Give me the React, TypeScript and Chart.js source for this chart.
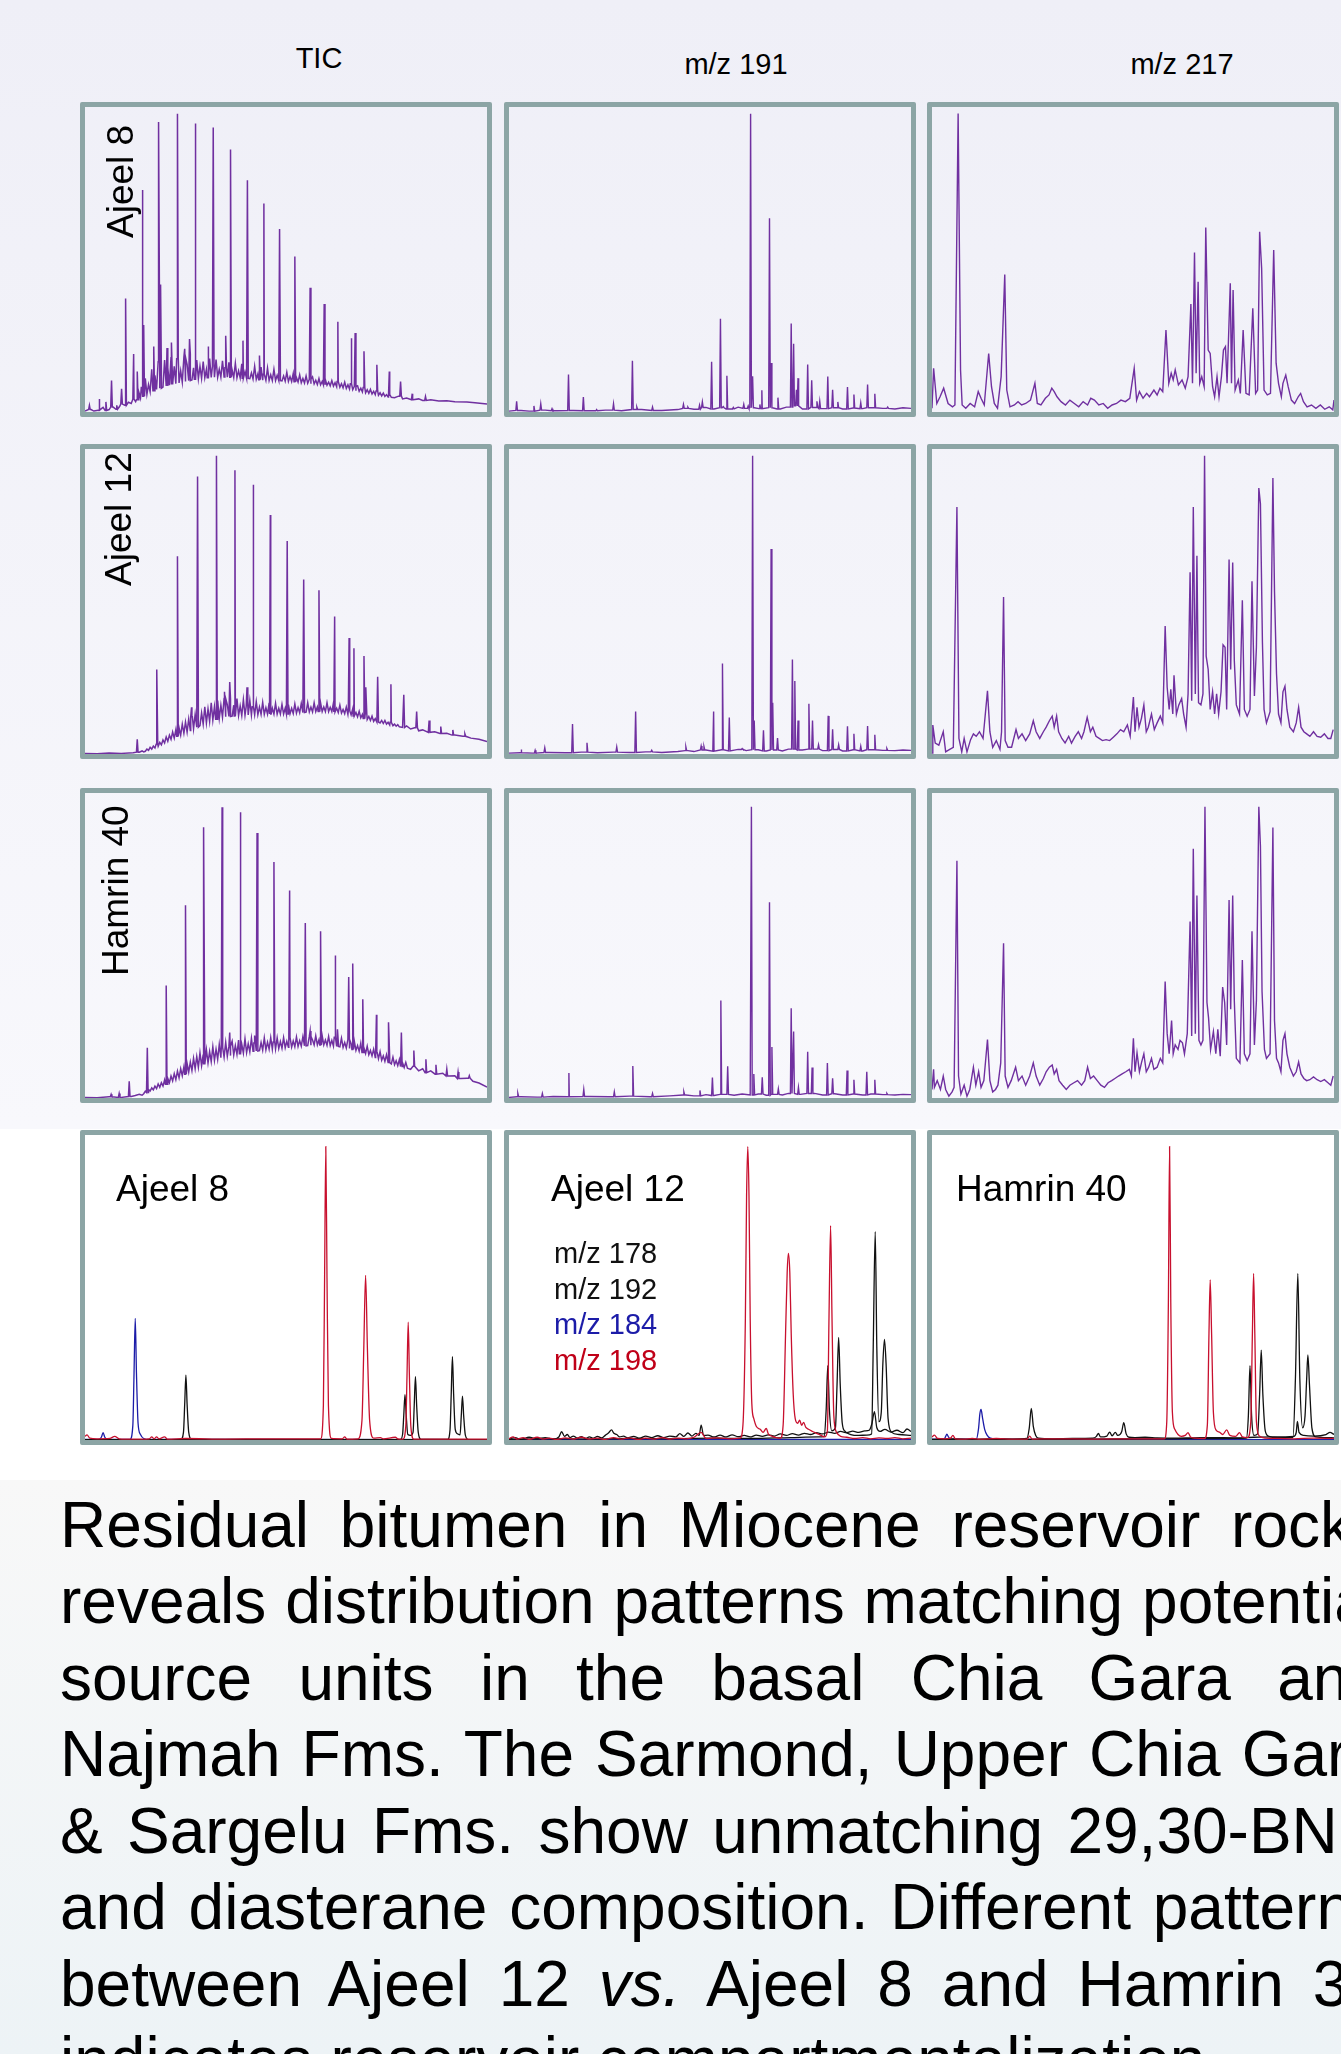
import React, { useEffect, useRef } from "react";
import { Chart, registerables } from "chart.js";

Chart.register(...registerables);

// ---------- labels ----------
const COLUMN_TITLES = ["TIC", "m/z 191", "m/z 217"];
const SAMPLES = ["Ajeel 8", "Ajeel 12", "Hamrin 40"];
const LEGEND_ITEMS = ["m/z 178", "m/z 192", "m/z 184", "m/z 198"];
const TEXT_LINES = [
  "Residual bitumen in Miocene reservoir rocks",
  "reveals distribution patterns matching potential",
  "source units in the basal Chia Gara and",
  "Najmah Fms. The Sarmond, Upper Chia Gara",
  "& Sargelu Fms. show unmatching 29,30-BNH",
  "and diasterane composition. Different patterns",
  "between Ajeel 12 |vs.| Ajeel 8 and Hamrin 30",
  "indicates reservoir compartmentalization.",
];

// ---------- TIC (retention %, abundance %) ----------
const TIC_A8_BASE = [0,0.3, 1.5,0.8, 2.2,0.3, 3.5,0.6, 4.5,1.5, 5.2,0.5, 6,0.8, 7,1.6, 7.8,0.9, 8.6,1.8, 9.3,2.6, 10,2.2, 10.8,3.2, 11.5,2.8, 12.2,4.2, 12.6,3.4,
  13.0,4.0, 13.4,6.5, 13.8,4.6, 14.2,8.0, 14.6,5.2, 15.0,11.0, 15.4,5.8, 15.8,9.0, 16.2,6.6, 16.6,14.0, 17.0,7.0, 17.4,12.0, 17.8,7.4, 18.2,16.5, 18.6,7.8, 19.0,13.5, 19.4,8.2, 19.8,17.0, 20.2,8.5, 20.6,14.5, 21.0,8.8, 21.4,18.0, 21.8,9.0, 22.2,15.0, 22.6,9.3, 23.0,17.5, 23.4,9.5, 23.8,13.5, 24.2,9.8, 24.6,18.0, 25.0,10.0, 25.4,15.5, 25.8,10.3, 26.2,19.0, 26.6,10.5, 27.0,14.5, 27.4,10.7, 27.8,17.0, 28.2,10.9, 28.6,15.0, 29.0,11.0, 29.4,16.5, 29.8,11.2, 30.2,14.0, 30.6,11.2, 31.0,17.5, 31.4,11.3, 31.8,15.0, 32.2,11.4, 32.6,17.2, 33.0,11.4, 33.4,14.0, 33.8,11.4, 34.2,16.8, 34.6,11.5, 35.0,14.5, 35.4,11.4, 35.8,16.3, 36.2,11.4, 36.6,13.8, 37.0,11.3, 37.4,16.0, 37.8,11.2, 38.2,13.5, 38.6,11.2, 39.0,15.8, 39.4,11.1, 39.8,13.2, 40.2,11.0, 40.6,15.2, 41.0,10.9, 41.4,12.8, 41.8,10.8, 42.2,15.0, 42.6,10.7, 43.0,12.5, 43.4,10.6, 43.8,14.7, 44.2,10.4, 44.6,12.4, 45.0,10.4, 45.4,14.4, 45.8,10.3, 46.2,12.2, 46.6,10.3, 47.0,14.0, 47.4,10.3, 47.8,12.0, 48.2,10.3, 48.6,13.6, 49.0,10.2, 49.4,11.8, 49.8,10.1, 50.2,13.0, 50.6,10.0, 51.0,11.6, 51.4,10.0, 51.8,12.6, 52.2,9.9, 52.6,11.3, 53.0,9.8, 53.4,12.2, 53.8,9.6, 54.2,11.0, 54.6,9.5, 55.0,11.8, 55.4,9.4, 55.8,10.7, 56.2,9.3, 56.6,11.5, 57.0,9.2, 57.4,10.4, 57.8,9.0, 58.2,11.0, 58.6,8.9, 59.0,10.0, 59.4,8.9, 59.8,10.6, 60.2,8.8, 60.6,9.8, 61.0,8.6, 61.4,10.3, 61.8,8.5, 62.2,9.6, 62.6,8.3, 63.0,10.0, 63.4,8.1, 63.8,9.3, 64.2,7.9, 64.6,9.8, 65.0,7.7, 65.4,8.9, 65.8,7.5, 66.2,9.3, 66.6,7.3, 67.0,8.4, 67.4,7.0, 67.8,8.6, 68.2,6.8, 68.6,7.8, 69.0,6.6, 69.4,8.0, 69.8,6.3, 70.2,7.3, 70.6,6.1, 71.0,7.4, 71.4,5.9, 71.8,6.8, 72.2,5.7, 72.6,6.9, 73.0,5.5, 73.4,6.3, 73.8,5.3, 74.2,6.2, 74.6,5.1, 75.0,5.7, 75.4,4.9, 75.8,5.5, 76.2,4.8,
  77,4.7, 78,5.2, 79,4.3, 80,4.6, 81.5,4.0, 83,4.3, 84,3.8, 86,4.0, 88,3.6, 90,3.7, 92,3.4, 95,3.3, 97,3.0, 100,2.6];
const TIC_A8_PEAKS = [1.1,2.2, 3.5,4.3, 5.2,3.3, 6.6,10.3, 7.9,2.2, 9.1,7.6, 10.1,37.2, 12.1,19, 13.0,13.3, 14.2,72.8, 14.6,28.5, 17.1,21.5, 18.4,95.1, 18.8,41.8, 20.4,21, 21.6,22.8, 23.0,97.8, 24.8,20.7, 26.0,23.9, 27.4,94.6, 30.6,21.5, 31.9,93.3, 35.0,25, 36.2,86.1, 39.3,23.4, 40.4,76, 43.4,18.5, 44.5,68.4, 48.4,60, 52.2,51, 56.0,40.7, 59.5,35.4, 62.9,29.6, 66.2,24.2, 67.2,25.9, 69.4,19.9, 72.6,15.5, 75.7,13.3, 78.5,10, 81.4,6, 84.7,5.1];

const TIC_A12_BASE = [0,0.2, 3,0.1, 6,0.3, 9,0.2, 12,0.4, 13.5,0.6, 14.2,1.0, 14.6,0.7,
  15.0,0.9, 15.4,1.6, 15.8,1.2, 16.2,2.2, 16.6,1.6, 17.0,2.6, 17.4,2.0, 17.8,3.2, 18.2,2.5, 18.6,3.8, 19.0,3.0, 19.4,4.6, 19.8,3.6, 20.2,5.6, 20.6,4.2, 21.0,6.2, 21.4,4.8, 21.8,7.2, 22.2,5.2, 22.6,8.0, 23.0,5.8, 23.4,8.6, 23.8,6.2, 24.2,9.8, 24.6,6.8, 25.0,10.5, 25.4,7.2, 25.8,11.5, 26.2,7.7, 26.6,12.2, 27.0,8.3, 27.4,13.0, 27.8,8.8, 28.2,14.2, 28.6,9.3, 29.0,13.5, 29.4,9.8, 29.8,15.5, 30.2,10.2, 30.6,14.8, 31.0,10.7, 31.4,16.8, 31.8,11.1, 32.2,15.5, 32.6,11.4, 33.0,17.5, 33.4,11.7, 33.8,16.0, 34.2,12.0, 34.6,18.2, 35.0,12.2, 35.4,16.2, 35.8,12.3, 36.2,18.0, 36.6,12.4, 37.0,16.0, 37.4,12.5, 37.8,18.2, 38.2,12.6, 38.6,15.8, 39.0,12.6, 39.4,17.8, 39.8,12.7, 40.2,15.6, 40.6,12.8, 41.0,17.6, 41.4,12.8, 41.8,15.5, 42.2,12.9, 42.6,17.2, 43.0,12.9, 43.4,15.4, 43.8,13.0, 44.2,16.9, 44.6,13.0, 45.0,15.2, 45.4,13.1, 45.8,16.8, 46.2,13.1, 46.6,15.0, 47.0,13.1, 47.4,16.6, 47.8,13.1, 48.2,15.0, 48.6,13.1, 49.0,16.3, 49.4,13.1, 49.8,15.0, 50.2,13.1, 50.6,16.2, 51.0,13.2, 51.4,15.0, 51.8,13.3, 52.2,16.4, 52.6,13.4, 53.0,15.2, 53.4,13.5, 53.8,16.6, 54.2,13.6, 54.6,15.3, 55.0,13.7, 55.4,16.8, 55.8,13.8, 56.2,15.4, 56.6,13.8, 57.0,16.8, 57.4,13.9, 57.8,15.4, 58.2,13.9, 58.6,16.8, 59.0,13.9, 59.4,15.4, 59.8,13.9, 60.2,16.8, 60.6,13.9, 61.0,15.3, 61.4,13.9, 61.8,16.7, 62.2,13.8, 62.6,15.0, 63.0,13.6, 63.4,16.0, 63.8,13.4, 64.2,14.6, 64.6,13.2, 65.0,15.4, 65.4,13.0, 65.8,14.2, 66.2,12.8, 66.6,14.8, 67.0,12.5, 67.4,13.6, 67.8,12.2, 68.2,14.0, 68.6,11.9, 69.0,13.0, 69.4,11.6, 69.8,13.2, 70.2,11.3, 70.6,12.3, 71.0,11.0, 71.4,12.4, 71.8,10.7, 72.2,11.6, 72.6,10.5, 73.0,11.6, 73.4,10.2, 73.8,11.0, 74.2,10.0, 74.6,11.0, 75.0,9.8, 75.4,10.4, 75.8,9.5, 76.2,10.4, 76.6,9.3, 77.0,9.8, 77.4,9.1, 77.8,9.6, 78.2,8.9,
  79,8.7, 80,9.2, 81,8.2, 82,8.6, 83,7.6, 84,7.9, 85.5,7.1, 87,7.3, 88.5,6.7, 90,6.8, 92,6.2, 94,5.8, 96,5.2, 98,4.8, 100,4.1];
const TIC_A12_PEAKS = [13,4.8, 17.9,27.7, 23,64.8, 26.5,15.3, 28,91, 32.7,97.8, 34.8,20.4, 36,23.6, 37.3,93, 40.3,21.9, 41.8,88.3, 46.1,78.4, 50.3,69.8, 54.4,57.2, 58.2,53.7, 62.1,45.1, 65.7,38, 66.9,34.7, 69.4,32.1, 69.9,21.9, 72.8,25.3, 76.1,22.9, 79.3,19.4, 82.5,13.9, 85.6,11, 88.5,9, 91.5,7.9, 94.5,6.6];

const TIC_H40_BASE = [0,0.2, 3,0.1, 6,0.4, 9,0.2, 11.5,0.5, 12.5,0.8, 13.5,1.2, 14.2,0.9,
  14.6,1.4, 15.0,2.2, 15.4,1.8, 15.8,2.8, 16.2,2.3, 16.6,3.3, 17.0,2.7, 17.4,3.9, 17.8,3.1, 18.2,4.6, 18.6,3.5, 19.0,5.0, 19.4,3.9, 19.8,5.9, 20.2,4.5, 20.6,6.4, 21.0,5.0, 21.4,7.2, 21.8,5.6, 22.2,8.0, 22.6,6.0, 23.0,8.8, 23.4,6.6, 23.8,9.6, 24.2,7.3, 24.6,10.2, 25.0,7.8, 25.4,11.3, 25.8,8.5, 26.2,11.8, 26.6,9.0, 27.0,13.0, 27.4,9.6, 27.8,13.6, 28.2,10.1, 28.6,14.8, 29.0,10.6, 29.4,14.2, 29.8,11.0, 30.2,15.8, 30.6,11.5, 31.0,15.2, 31.4,11.9, 31.8,16.8, 32.2,12.3, 32.6,16.0, 33.0,12.7, 33.4,17.6, 33.8,13.2, 34.2,16.5, 34.6,13.4, 35.0,18.2, 35.4,13.7, 35.8,17.0, 36.2,13.9, 36.6,18.6, 37.0,14.1, 37.4,17.2, 37.8,14.3, 38.2,19.0, 38.6,14.5, 39.0,17.6, 39.4,14.7, 39.8,19.4, 40.2,14.9, 40.6,17.8, 41.0,15.1, 41.4,19.6, 41.8,15.3, 42.2,18.0, 42.6,15.4, 43.0,19.7, 43.4,15.5, 43.8,18.2, 44.2,15.7, 44.6,19.7, 45.0,15.8, 45.4,18.3, 45.8,16.0, 46.2,19.8, 46.6,16.0, 47.0,18.4, 47.4,16.1, 47.8,19.7, 48.2,16.2, 48.6,18.5, 49.0,16.3, 49.4,19.8, 49.8,16.5, 50.2,18.6, 50.6,16.6, 51.0,19.9, 51.4,16.7, 51.8,18.7, 52.2,16.8, 52.6,20.0, 53.0,16.9, 53.4,18.8, 53.8,17.0, 54.2,20.1, 54.6,17.1, 55.0,18.9, 55.4,17.2, 55.8,20.2, 56.2,17.3, 56.6,19.0, 57.0,17.4, 57.4,20.4, 57.8,17.4, 58.2,19.1, 58.6,17.4, 59.0,20.4, 59.4,17.4, 59.8,19.0, 60.2,17.3, 60.6,20.2, 61.0,17.2, 61.4,18.9, 61.8,17.0, 62.2,19.9, 62.6,16.9, 63.0,18.6, 63.4,16.8, 63.8,19.6, 64.2,16.6, 64.6,18.2, 65.0,16.4, 65.4,19.2, 65.8,16.2, 66.2,17.8, 66.6,15.9, 67.0,18.6, 67.4,15.6, 67.8,17.2, 68.2,15.3, 68.6,18.0, 69.0,14.9, 69.4,16.4, 69.8,14.6, 70.2,17.0, 70.6,14.2, 71.0,15.6, 71.4,13.8, 71.8,16.0, 72.2,13.3, 72.6,14.8, 73.0,12.9, 73.4,15.2, 73.8,12.4, 74.2,13.8, 74.6,12.0, 75.0,14.2, 75.4,11.6, 75.8,13.0, 76.2,11.2, 76.6,13.4, 77.0,10.9, 77.4,12.2, 77.8,10.6, 78.2,12.6, 78.6,10.3, 79.0,11.5, 79.4,10.0, 79.8,11.7, 80.2,9.8,
  81,9.4, 82,10.4, 83,8.9, 84,9.6, 85,8.3, 86,8.9, 87.5,7.8, 89,8.1, 90.5,7.2, 92,7.3, 93.5,6.4, 95,6.5, 96.5,5.5, 98,4.9, 100,3.6];
const TIC_H40_PEAKS = [6.5,1.2, 8.5,1.5, 11,5.5, 15.5,16.5, 20.2,36.9, 25,63.2, 29.6,88.8, 34.1,95.3, 36,21.5, 38.6,93.7, 42.2,20.5, 42.8,86.9, 47,77.4, 50.9,68, 54.8,57.4, 56,22, 58.6,54.7, 62.2,46.7, 62.8,22.5, 65.6,39.7, 66.6,44.1, 69.1,32.4, 72.5,27.3, 75.6,24.8, 78.7,21.5, 81.8,15.6, 84.8,12.7, 87.3,10.9, 90,9.5, 92.8,8.5, 95.6,7.3];

// ---------- m/z 191 ----------
const M191_A8_BASE = [0,0.3, 3,0.5, 5,0.3, 9,0.6, 12,0.4, 16,0.5, 20,0.4, 24,0.6, 28,0.4, 33,0.8, 38,0.5, 42,0.8, 44,1.2, 46,0.9, 49,1.5, 51,1.0, 53,1.4, 55,1.0, 57,1.6, 59,1.2, 61,1.4, 63,1.1, 65.5,1.4, 67.5,1.0, 69,1.6, 72,2.0, 73,1.0, 76,1.5, 78,1.1, 81,1.4, 83,1.0, 86,1.3, 88,1.1, 90,1.4, 93,1.2, 96,1.0, 98,1.4, 100,1.2];
const M191_A8_PEAKS = [1.9,3.5, 6.2,2, 7.9,2.7, 10.7,1.1, 14.8,12.3, 18.5,4.9, 21.8,0.8, 26,2.7, 30.7,16.8, 31.8,1.6, 35.7,1.6, 43.4,2.5, 44.5,1.6, 47.4,2.2, 48.1,3.3, 50.4,16.5, 52.6,30.6, 53.3,1.8, 54.2,11.9, 55.8,1.5, 58.4,2.5, 59.5,2.0, 60.1,97.8, 60.6,11.7, 62.4,2.5, 62.9,7.1, 64.8,63.5, 65.2,16.1, 66.9,4.7, 70.2,29, 70.8,22.4, 71.5,7.3, 71.9,11.1, 74.3,15.6, 75.3,10.4, 76.6,3.5, 77.3,3.5, 79.3,11.6, 80.5,7.3, 81.8,3.3, 84.2,8.2, 85.8,5.7, 87.5,3, 89.2,9, 91,6, 94.2,1.6];

const M191_A12_BASE = [0,0.3, 3,0.4, 6,0.3, 10,0.5, 14,0.4, 18,0.6, 22,0.4, 26,0.6, 30,0.5, 34,0.7, 38,0.5, 42,0.8, 44.5,1.1, 46,0.8, 49,1.3, 51,0.9, 53,1.4, 55,1.0, 57,1.5, 59,1.1, 62,1.4, 64,1.0, 66,1.3, 68,1.0, 69.5,1.6, 73,1.3, 76,1.6, 78,1.1, 81,1.5, 83,1.0, 86,1.4, 88,1.0, 90,1.4, 93,1.2, 96,1.1, 98,1.3, 100,1.2];
const M191_A12_PEAKS = [3,1.5, 6.5,1.2, 8.9,2, 15.8,9.8, 19.4,3.7, 26.8,2.3, 31.5,13.9, 35.5,1.2, 44,2.3, 47.8,2.6, 48.5,2.4, 50.9,13.9, 53.1,29.7, 54.8,12, 58,1.8, 60.6,97.8, 61,11, 63.3,7.8, 65.2,67.2, 65.6,16.8, 66.8,5.2, 70.5,31, 71.1,23.9, 71.9,11, 74.6,16.5, 75.5,11, 77,3, 79.4,12.5, 80.5,8.1, 82,3, 84.2,9.1, 85.8,6.6, 87.5,2.5, 89.2,9.2, 91,6.3, 94,1.8];

const M191_H40_BASE = [0,0.2, 3,0.4, 7,0.3, 11,0.5, 15,0.4, 20,0.5, 25,0.4, 30,0.6, 35,0.4, 40,0.7, 44,1.0, 46,0.7, 49,1.1, 51,0.8, 53,1.2, 56,0.9, 58,1.3, 60,1.0, 62,1.3, 64,0.9, 66.5,1.2, 68,1.0, 69.5,1.5, 72.5,1.2, 76,1.5, 78,1.0, 81,1.4, 83,1.0, 86,1.3, 88,1.0, 90,1.3, 93,1.1, 96,1.0, 98,1.2, 100,1.1];
const M191_H40_PEAKS = [2.2,1.5, 8.3,1.5, 14.9,8.2, 18.6,2.8, 26.2,2, 30.8,10.5, 35.7,1.5, 43.5,2, 47.5,2.5, 50.6,6.7, 52.7,32, 54.4,10.4, 60.3,95.5, 60.9,7.9, 63,6.8, 64.8,64.2, 65.4,16.7, 67,3, 70.2,29.4, 70.8,21.8, 72,3.5, 74.3,15.2, 75.4,10, 79.2,11.5, 80.5,6.5, 84.1,9, 85.8,6, 89,8.6, 91,6, 94,1.5];

// ---------- m/z 217 ----------
const M217_A8 = [0,1.2, 0.4,14.3, 1.2,2.8, 2.0,5.0, 2.9,7.8, 4.0,2.8, 5.1,1.7, 5.7,2.3, 6.5,97.9, 7.1,13.8, 7.5,2.3, 8.4,1.2, 9.5,2.8, 10.6,1.7, 11.5,6.7, 12.2,4.5, 13.0,2.3, 14.1,19.2, 14.8,8.3, 15.5,2.8, 16.3,1.2, 17.2,11.6, 18.1,45.1, 18.6,7.2, 19.4,1.7, 20.5,2.3, 21.4,3.4, 22.3,2.3, 23.3,2.8, 24.5,3.9, 25.6,9.4, 26.2,2.8, 27.1,2.3, 28.2,4.5, 29.1,5.6, 29.8,7.8, 30.4,6.7, 31.1,5.0, 32.1,3.4, 33.2,2.3, 34.3,3.9, 35.4,2.8, 36.5,1.7, 37.6,3.4, 38.7,2.3, 39.5,4.5, 40.4,3.9, 41.5,2.3, 42.6,2.8, 43.7,1.2, 44.8,2.3, 45.9,2.8, 47.0,3.9, 48.1,3.4, 49.2,4.5, 50.3,14.3, 50.9,3.9, 51.6,6.7, 52.5,4.5, 53.4,6.1, 54.1,5.0, 55.2,7.2, 56.0,5.6, 56.7,7.8, 57.4,6.7, 58.2,26.9, 58.9,9.4, 59.5,12.7, 60.0,10.5, 60.5,13.8, 61.3,8.9, 62.2,10.5, 63.0,7.8, 63.7,11.6, 64.4,35.4, 64.8,9.4, 65.3,52.3, 65.7,12.7, 66.2,42.7, 66.6,9.4, 67.1,11.6, 67.7,8.3, 68.1,60.5, 68.7,20.3, 69.2,19.2, 69.8,8.3, 70.3,5.0, 70.9,11.6, 71.4,5.0, 72.0,11.6, 72.5,20.3, 73.0,21.4, 73.4,9.4, 74.2,42.2, 74.5,9.4, 74.9,40.0, 75.4,7.2, 76.2,10.5, 76.7,6.1, 77.4,26.9, 78.1,6.1, 78.9,5.6, 79.8,34.0, 80.5,6.1, 81.0,7.2, 81.5,59.1, 82.0,47.1, 82.6,7.2, 83.4,5.6, 84.2,6.1, 85.0,53.1, 85.6,16.0, 86.2,9.4, 86.9,5.0, 87.3,9.4, 88.0,12.1, 88.6,8.3, 89.4,3.9, 90.2,2.8, 91.1,5.0, 91.7,6.1, 92.4,3.4, 93.3,1.7, 94.4,2.3, 95.5,1.2, 96.6,2.3, 97.7,0.9, 98.8,1.7, 99.7,0.7, 100,3.9];

const M217_A12 = [0,0.3, 0.2,9.5, 0.8,3.6, 1.7,2.9, 2.8,7.3, 3.4,0.7, 4.4,1.5, 5.3,2.2, 6.2,81.0, 6.7,5.1, 7.4,0.7, 8.0,5.1, 8.7,0.7, 9.6,4.7, 10.3,6.6, 11.0,5.8, 11.8,7.3, 12.7,5.1, 13.8,20.7, 14.4,7.3, 15.1,2.2, 16.0,4.4, 16.9,1.5, 17.3,7.3, 17.8,51.5, 18.2,4.4, 18.9,2.2, 19.8,2.2, 20.9,8.0, 21.5,5.1, 22.4,6.6, 23.3,4.4, 24.3,6.6, 25.2,10.9, 25.9,7.3, 26.8,5.1, 27.7,7.3, 28.4,8.8, 29.2,10.9, 29.9,12.4, 30.4,8.8, 31.0,12.4, 31.5,7.3, 32.3,5.1, 33.1,3.6, 34.0,5.8, 34.7,3.6, 35.6,5.8, 36.4,7.3, 37.2,5.1, 37.8,7.3, 38.6,12.0, 39.4,7.3, 40.0,8.8, 40.8,5.8, 41.6,5.1, 42.4,4.4, 43.3,4.7, 44.2,4.4, 45.1,5.5, 46.0,6.6, 46.9,8.0, 47.7,7.3, 48.6,9.5, 49.3,5.8, 50.1,18.7, 50.5,7.3, 51.0,15.3, 51.5,8.8, 52.1,11.7, 52.7,16.1, 53.3,7.3, 53.8,8.8, 54.6,13.1, 55.3,8.0, 56.0,10.2, 56.8,12.4, 57.4,10.2, 58.0,42.0, 58.5,21.9, 59.0,14.6, 59.4,21.2, 59.9,13.1, 60.2,25.8, 60.8,13.1, 61.4,16.1, 62.1,18.2, 62.6,13.1, 63.2,8.8, 63.7,19.7, 64.2,59.6, 64.6,17.5, 65.0,81.0, 65.5,19.7, 65.9,65.0, 66.3,16.8, 66.9,16.1, 67.4,19.7, 67.8,97.8, 68.2,32.1, 68.7,27.7, 69.2,14.6, 69.8,20.4, 70.3,13.1, 70.8,19.7, 71.3,13.1, 71.9,20.4, 72.4,35.8, 72.9,35.0, 73.3,14.6, 73.9,63.8, 74.3,27.7, 74.8,62.8, 75.2,30.7, 75.7,16.1, 76.5,13.1, 77.2,50.4, 77.7,14.6, 78.4,12.4, 79.1,14.6, 79.6,56.6, 80.2,19.0, 80.7,35.0, 81.3,87.2, 81.7,82.0, 82.2,36.5, 82.6,14.6, 83.2,10.2, 84.1,13.9, 84.8,90.5, 85.2,53.3, 85.7,26.3, 86.2,13.1, 86.8,10.2, 87.3,20.4, 87.8,22.2, 88.3,14.6, 89.0,8.8, 89.9,7.3, 90.6,10.2, 91.2,15.3, 91.8,8.8, 92.5,7.3, 93.2,6.6, 94.0,5.8, 94.9,7.3, 95.8,5.8, 96.7,5.5, 97.6,6.6, 98.5,5.1, 99.2,5.1, 99.8,8.0];

const M217_H40 = [0,2.8, 0.4,9.4, 0.6,3.5, 1.3,5.7, 2.1,2.8, 2.8,7.2, 3.4,2.8, 4.2,0.6, 5.0,2.0, 5.5,3.5, 6.2,77.8, 6.6,7.2, 7.2,1.3, 8.0,4.2, 8.7,0.6, 9.4,2.8, 10.3,10.1, 10.9,4.2, 11.6,8.6, 12.2,3.5, 12.9,5.7, 13.8,19.2, 14.4,5.7, 15.1,2.0, 15.8,2.8, 16.4,4.2, 17.1,11.5, 17.8,50.7, 18.2,7.2, 18.9,3.5, 19.7,5.7, 20.8,10.1, 21.5,5.7, 22.4,7.2, 23.3,4.2, 24.3,7.2, 25.2,11.5, 25.9,7.2, 26.8,4.2, 27.7,6.4, 28.4,8.6, 29.2,10.1, 29.9,10.8, 30.4,7.9, 31.0,9.4, 31.6,5.7, 32.5,4.2, 33.4,2.8, 34.3,4.2, 35.3,5.0, 36.2,5.7, 37.2,4.2, 38.0,5.7, 38.7,10.1, 39.4,6.4, 40.2,7.2, 41.1,5.7, 42.0,4.2, 42.9,3.5, 43.8,5.0, 44.7,5.7, 45.5,6.4, 46.4,7.2, 47.3,7.9, 48.2,8.6, 49.1,9.4, 49.6,7.2, 50.1,19.6, 50.5,8.6, 51.0,14.8, 51.6,8.6, 52.1,11.5, 52.7,14.5, 53.3,8.6, 53.9,10.1, 54.6,13.0, 55.2,9.4, 56.0,10.1, 56.8,13.0, 57.4,11.5, 58.0,38.2, 58.5,21.1, 59.0,14.5, 59.6,25.4, 60.0,14.5, 60.5,17.4, 61.2,15.9, 61.7,18.9, 62.3,18.1, 62.8,14.5, 63.5,21.1, 64.2,57.9, 64.6,20.3, 65.0,81.7, 65.5,21.1, 65.9,66.4, 66.4,18.9, 66.9,17.4, 67.4,18.9, 67.9,95.5, 68.4,31.3, 68.8,26.2, 69.3,15.9, 70.0,21.8, 70.6,14.5, 71.1,22.5, 71.7,13.7, 72.3,36.4, 72.8,31.3, 73.3,17.4, 73.9,64.9, 74.3,29.1, 74.8,66.4, 75.2,32.0, 75.7,13.0, 76.6,11.5, 77.2,45.2, 77.7,14.5, 78.4,12.3, 79.1,14.5, 79.6,54.7, 80.2,17.4, 80.7,32.0, 81.3,95.5, 81.7,82.5, 82.1,34.9, 82.7,15.9, 83.2,13.0, 84.1,14.5, 84.8,88.7, 85.2,25.4, 85.7,13.0, 86.2,11.5, 86.8,8.6, 87.3,18.9, 87.8,21.1, 88.3,14.5, 89.0,10.1, 89.9,7.2, 90.6,8.6, 91.2,11.8, 91.8,7.9, 92.5,6.4, 93.2,5.7, 94.0,6.0, 94.9,6.9, 95.8,6.0, 96.7,5.4, 97.6,6.0, 98.5,5.0, 99.2,4.2, 99.8,7.2];

// ---------- aromatics (m/z 178, 192, 184, 198) ----------
const A8_198 = [0,1.2, 0.5,1.7, 1.2,0.6, 3,0.4, 6.2,0.5, 7.4,1.2, 8.5,0.4, 12,0.3, 16,0.4, 16.6,1.0, 17.2,0.4, 17.8,1.0, 18.4,0.4, 19.8,1.0, 20.5,0.3, 25,0.5, 35,0.3, 45,0.4, 58.6,0.4, 59.3,11.5, 59.6,53, 59.9,96.2, 60.2,53, 60.55,11.5, 61.3,0.5, 64,0.4, 64.6,1.0, 65.2,0.3, 67.9,0.4, 68.9,6.5, 69.35,30, 69.8,54, 70.25,30, 70.8,6.5, 71.8,0.6, 73.5,0.8, 74.2,0.4, 77.2,0.9, 77.8,0.4, 79.1,0.3, 79.8,4.6, 80.1,21, 80.4,38.6, 80.7,21, 81.05,4.6, 81.8,0.3, 85,0.3, 100,0.3];
const A8_184 = [0,0.2, 3.5,0.2, 4.1,1.0, 4.5,2.4, 4.9,1.0, 5.5,0.2, 11.2,0.2, 11.9,4.8, 12.2,22, 12.5,39.9, 12.8,22, 13.2,5.5, 13.8,1.8, 14.6,0.5, 16,0.2, 100,0.1];
const A8_178 = [0,0.1, 23.8,0.1, 24.5,2.6, 24.8,11.7, 25.1,21.3, 25.4,11.7, 25.8,2.6, 26.5,0.2, 100,0.1];
const A8_192 = [0,0.1, 78.4,0.1, 79,1.8, 79.3,8.2, 79.6,14.9, 79.9,8.2, 80.3,1.8, 81,1.5, 81.6,2.5, 81.9,11.4, 82.2,20.8, 82.5,11.4, 82.9,2.5, 83.6,0.2, 90.2,0.2, 90.8,3.3, 91.1,15, 91.4,27.3, 91.7,15, 92.1,3.5, 92.7,2, 93.3,1.7, 93.6,7.9, 93.9,14.4, 94.2,7.9, 94.6,1.7, 95.4,0.1, 100,0.1];

const A12_198 = [0,0.4, 1,1.0, 2,0.3, 3.5,0.8, 5,0.2, 7,0.9, 8.5,0.3, 10,0.6, 12,0.2, 14,0.7, 16,0.3, 18,0.9, 20,0.3, 22,0.6, 24,0.2, 26,0.8, 28,0.3, 30,0.7, 32,0.2, 34,0.6, 36,0.3, 38,0.8, 40,0.3, 42,0.6, 44,0.4, 46,0.9, 47.8,2.5, 49,0.5, 52,0.7, 55,0.4, 57.5,0.6, 58.2,5, 58.8,40, 59.1,80, 59.4,96.2, 59.7,80, 60.0,40, 60.4,12, 60.9,7, 61.5,4.5, 62.5,3.5, 63.2,2.5, 64,3.8, 64.5,2.0, 65.5,1.2, 66.5,0.8, 67.5,0.6, 68.2,5, 68.8,35, 69.2,55, 69.5,61.2, 69.85,55, 70.2,35, 70.7,15, 71.2,7, 71.8,5.5, 72.3,6.5, 72.8,4.8, 73.3,5.8, 73.8,4.2, 74.5,3.5, 75.5,2.8, 76.5,2.2, 77.5,1.6, 78.5,1.0, 79.2,3, 79.6,40, 80,70.3, 80.35,40, 80.8,8, 81.5,2.5, 82.5,1.2, 84,0.9, 86,0.5, 88,0.8, 90,0.4, 92,0.7, 94,0.5, 96,0.8, 98,0.4, 100,0.6];
const A12_178 = [0,0.3, 1.5,0.8, 3,0.2, 5,0.9, 7,0.4, 9,0.8, 11,0.3, 12.4,1.0, 13.1,2.7, 13.8,1.2, 14.5,1.8, 15.2,0.8, 16,1.3, 17,0.6, 18,1.1, 19,0.5, 20,1.0, 21,0.6, 22,1.2, 23,0.7, 24,1.6, 24.8,2.4, 25.5,3.3, 26.1,2.2, 26.8,1.8, 27.5,1.0, 28.5,1.3, 29.5,0.7, 31,1.2, 32.5,0.6, 34,1.3, 35.5,0.8, 37,1.4, 38.5,0.8, 40,1.3, 41.5,1.0, 42.5,2.1, 43.5,1.2, 44.5,2.3, 45.5,1.3, 46.5,2.2, 47.3,1.5, 47.8,4.9, 48.4,1.5, 49.5,1.6, 51,1.0, 52.5,1.6, 54,1.0, 55.5,1.7, 57,1.1, 58.5,1.5, 60,1.0, 61.5,1.6, 63,1.2, 64.5,1.7, 66,1.3, 67.5,2.0, 69,1.5, 70.5,2.1, 72,1.6, 73.5,2.2, 75,1.8, 76.5,2.4, 78,2.0, 79.5,2.6, 81,2.2, 82.5,2.8, 84,2.4, 85.5,2.9, 87,2.5, 88.5,3.0, 89.6,3.2, 90.3,5.5, 90.9,9.3, 91.5,4.0, 92.3,2.8, 93.5,3.5, 95,2.6, 96.5,3.2, 98,2.4, 99,3.6, 100,2.8];
const A12_192 = [0,0.2, 10,0.4, 20,0.3, 30,0.5, 40,0.4, 50,0.6, 60,0.5, 70,0.8, 77,1.0, 78.4,1.2, 78.9,10, 79.3,24.4, 79.7,10, 80.3,3.0, 81.2,4.0, 81.6,18, 82,33.6, 82.4,18, 82.9,5.5, 83.6,2.8, 85,1.8, 87,1.5, 89,1.6, 90.2,2.0, 90.6,30, 91.1,68.3, 91.5,30, 92.0,6, 92.6,9, 93.0,25, 93.4,33, 93.8,25, 94.3,7, 95.2,2.5, 97,1.8, 100,1.5];
const A12_184 = [0,0.2, 50,0.2, 100,0.2];

const H40_198 = [0,1.0, 0.6,1.6, 1.4,0.5, 3,0.4, 4.6,0.6, 5.2,1.5, 5.8,0.4, 8,0.3, 10,0.5, 12,0.3, 16,0.5, 20,0.3, 23.7,0.3, 24.3,1.3, 24.9,0.3, 30,0.4, 40,0.3, 50,0.4, 57.8,0.4, 58.4,6, 58.8,45, 59.1,96.2, 59.4,45, 59.8,9, 60.4,3.5, 61.2,1.8, 62,1.2, 63,1.5, 63.7,2.4, 64.3,1.0, 65.5,0.6, 67.8,0.5, 68.5,5, 68.9,35, 69.2,52.5, 69.55,35, 70,9, 70.7,3.2, 71.5,2.6, 72.3,1.8, 73.3,3.3, 74.1,1.5, 75.5,1.2, 76.5,2.4, 77.2,1.0, 78.5,0.8, 79.3,6, 79.7,35, 80,54.6, 80.3,35, 80.7,6, 81.5,1.2, 83,0.6, 86,0.5, 90,0.4, 95,0.6, 100,0.5];
const H40_178 = [0,0.2, 5,0.4, 10,0.2, 15,0.4, 20,0.3, 23.6,0.5, 24.2,4, 24.7,10.4, 25.2,4.5, 25.8,1.5, 26.5,0.6, 30,0.4, 35,0.5, 40,0.6, 40.9,1.2, 41.4,2.2, 41.9,1.0, 43.5,1.3, 44.2,2.6, 44.8,1.4, 45.6,2.5, 46.2,1.5, 47.2,2.8, 47.7,5.7, 48.3,2.0, 49,0.9, 50.5,0.8, 53,0.9, 56,0.7, 60,0.6, 65,0.7, 70,0.8, 75,0.7, 80,0.9, 85,1.0, 90,1.2, 90.6,2.5, 90.9,6.1, 91.3,2.5, 92.5,1.5, 95,1.3, 98,1.8, 99,2.5, 100,1.8];
const H40_192 = [0,0.1, 20,0.2, 40,0.3, 60,0.4, 70,0.5, 78.2,0.6, 78.7,8, 79.1,24.4, 79.5,8, 80.1,1.5, 81,2.0, 81.5,15, 81.9,29.5, 82.3,15, 82.9,3, 83.8,1.2, 86,0.8, 89.8,0.8, 90.4,20, 91,54.6, 91.5,20, 92.2,4, 92.8,8, 93.2,20, 93.5,27.9, 93.9,18, 94.5,4, 95.5,1.0, 98,0.8, 100,0.7];
const H40_184 = [0,0.3, 3,0.3, 3.4,1.2, 3.7,1.9, 4.1,1.0, 4.6,0.3, 11,0.3, 11.6,4, 11.9,8.5, 12.2,10, 12.6,7, 13.1,3.5, 13.7,1.6, 14.5,0.6, 16,0.3, 30,0.2, 60,0.2, 100,0.1];

// ---------- helpers ----------
type P = { x: number; y: number };
function pairs(a: number[]): P[] {
  const r: P[] = [];
  for (let i = 0; i < a.length; i += 2) r.push({ x: a[i], y: a[i + 1] });
  return r;
}
function withSpikes(base: number[], peaks: number[]): P[] {
  const b = pairs(base);
  const pts = [...b];
  for (let i = 0; i < peaks.length; i += 2) {
    const x = peaks[i];
    const y = peaks[i + 1];
    let near = b[0];
    for (const q of b) if (Math.abs(q.x - x) < Math.abs(near.x - x)) near = q;
    pts.push({ x: x - 0.2, y: near.y }, { x, y }, { x: x + 0.2, y: near.y });
  }
  pts.sort((p, q) => p.x - q.x);
  return pts;
}

const PURPLE = "#7030a0";
const RED = "#c8102e";
const BLUE = "#1c1ca8";
const BLACK = "#111111";

function purple(data: P[], w = 1.4) {
  return { data, borderColor: PURPLE, borderWidth: w, pointRadius: 0, tension: 0, fill: false };
}
function smooth(data: P[], color: string) {
  return { data, borderColor: color, borderWidth: 1.3, pointRadius: 0, cubicInterpolationMode: "monotone", fill: false };
}

const PANEL_W = 412;
const PANEL_H = 315;
const BORDER = 5;
const COL_X = [80, 504, 927];
const ROW_Y = [102, 444, 788, 1130];

function Panel({ left, top, datasets }: { left: number; top: number; datasets: any[] }) {
  const ref = useRef<HTMLCanvasElement>(null);
  useEffect(() => {
    const chart = new Chart(ref.current as HTMLCanvasElement, {
      type: "line",
      data: { datasets } as any,
      options: {
        animation: false,
        responsive: false,
        maintainAspectRatio: false,
        events: [],
        layout: { padding: 0 },
        plugins: { legend: { display: false }, tooltip: { enabled: false } },
        scales: {
          x: { type: "linear", min: 0, max: 100, display: false },
          y: { min: 0, max: 100, display: false },
        },
      } as any,
    });
    return () => chart.destroy();
  }, []);
  const iw = PANEL_W - 2 * BORDER;
  const ih = PANEL_H - 2 * BORDER;
  return (
    <div
      style={{
        position: "absolute",
        left,
        top,
        width: PANEL_W,
        height: PANEL_H,
        boxSizing: "border-box",
        border: `${BORDER}px solid #8ca5a5`,
        borderRadius: 2,
      }}
    >
      <canvas ref={ref} width={iw} height={ih} style={{ display: "block", width: iw, height: ih }} />
    </div>
  );
}

const ROWS: any[][] = [
  [
    [purple(withSpikes(TIC_A8_BASE, TIC_A8_PEAKS), 1.5)],
    [purple(withSpikes(M191_A8_BASE, M191_A8_PEAKS))],
    [purple(pairs(M217_A8))],
  ],
  [
    [purple(withSpikes(TIC_A12_BASE, TIC_A12_PEAKS), 1.5)],
    [purple(withSpikes(M191_A12_BASE, M191_A12_PEAKS))],
    [purple(pairs(M217_A12))],
  ],
  [
    [purple(withSpikes(TIC_H40_BASE, TIC_H40_PEAKS), 1.5)],
    [purple(withSpikes(M191_H40_BASE, M191_H40_PEAKS))],
    [purple(pairs(M217_H40))],
  ],
  [
    [smooth(pairs(A8_198), RED), smooth(pairs(A8_178), BLACK), smooth(pairs(A8_192), BLACK), smooth(pairs(A8_184), BLUE)],
    [smooth(pairs(A12_198), RED), smooth(pairs(A12_178), BLACK), smooth(pairs(A12_192), BLACK), smooth(pairs(A12_184), BLUE)],
    [smooth(pairs(H40_198), RED), smooth(pairs(H40_178), BLACK), smooth(pairs(H40_192), BLACK), smooth(pairs(H40_184), BLUE)],
  ],
];

const FONT = '"Liberation Sans", Arial, Helvetica, sans-serif';

function renderLine(s: string) {
  const parts = s.split("|");
  return parts.map((p, i) => (i % 2 === 1 ? <i key={i}>{p}</i> : <React.Fragment key={i}>{p}</React.Fragment>));
}

export default function App() {
  const titleCenters = [319, 736, 1182];
  const titleTops = [43.5, 49.5, 49.5];
  const rowLabel = [
    { L: 102, T: 238 },
    { L: 100, T: 586 },
    { L: 97, T: 976 },
  ];
  const innerLabelLeft = [116, 551, 956];
  const legendColors = [BLACK, BLACK, BLUE, "#c00018"];
  return (
    <div
      style={{
        position: "relative",
        width: 1341,
        height: 2054,
        overflow: "hidden",
        fontFamily: FONT,
        color: "#000",
        background:
          "linear-gradient(to bottom, #efeff7 0px, #f8f8fc 1129px, #ffffff 1129px, #ffffff 1480px, #f8f8f8 1480px, #edf3f6 2054px)",
      }}
    >
      <style>{`html,body{margin:0;padding:0;overflow:hidden;}`}</style>

      {COLUMN_TITLES.map((t, i) => (
        <div
          key={t}
          style={{
            position: "absolute",
            left: titleCenters[i] - 150,
            width: 300,
            top: titleTops[i],
            textAlign: "center",
            fontSize: 29,
            lineHeight: "29px",
            whiteSpace: "nowrap",
          }}
        >
          {t}
        </div>
      ))}

      {ROWS.map((row, r) =>
        row.map((ds, c) => <Panel key={`${r}-${c}`} left={COL_X[c]} top={ROW_Y[r]} datasets={ds} />)
      )}

      {SAMPLES.map((s, i) => (
        <div
          key={"rl" + s}
          style={{
            position: "absolute",
            left: rowLabel[i].L,
            top: rowLabel[i].T,
            fontSize: 37,
            lineHeight: "37px",
            whiteSpace: "nowrap",
            transformOrigin: "0 0",
            transform: "rotate(-90deg)",
          }}
        >
          {s}
        </div>
      ))}

      {SAMPLES.map((s, i) => (
        <div
          key={"il" + s}
          style={{
            position: "absolute",
            left: innerLabelLeft[i],
            top: 1170,
            fontSize: 37,
            lineHeight: "37px",
            whiteSpace: "nowrap",
          }}
        >
          {s}
        </div>
      ))}

      <div style={{ position: "absolute", left: 554, top: 1236, fontSize: 29, lineHeight: "35.5px", whiteSpace: "nowrap" }}>
        {LEGEND_ITEMS.map((m, i) => (
          <div key={m} style={{ color: legendColors[i] }}>
            {m}
          </div>
        ))}
      </div>

      <div style={{ position: "absolute", left: 60, top: 1486.6, width: 1324, fontSize: 64, lineHeight: "76.5px" }}>
        {TEXT_LINES.map((l, i) => (
          <div
            key={i}
            style={{
              whiteSpace: "nowrap",
              textAlign: i === TEXT_LINES.length - 1 ? "left" : "justify",
              textAlignLast: i === TEXT_LINES.length - 1 ? "left" : "justify",
              height: 76.5,
            }}
          >
            {renderLine(l)}
          </div>
        ))}
      </div>
    </div>
  );
}
